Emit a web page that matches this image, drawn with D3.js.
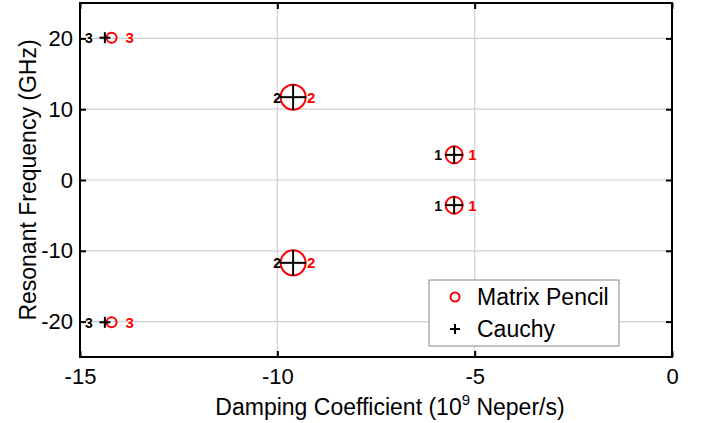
<!DOCTYPE html>
<html>
<head>
<meta charset="utf-8">
<script src="https://cdn.jsdelivr.net/npm/d3@7"></script>
<style>
  html, body { margin: 0; padding: 0; background: #fff; }
  svg { display: block; font-family: "Liberation Sans", Arial, sans-serif; }
</style>
</head>
<body>
<svg id="chart" width="710" height="423"></svg>
<script>
// ---- data ----
const poleIndex = [1, 1, 2, 2, 3, 3];
const mpDamping = [-5.52, -5.52, -9.60, -9.60, -14.20, -14.20];
const mpFreq = [3.55, -3.55, 11.7, -11.7, 20.1, -20.1];
const cauchyDamping = [-5.52, -5.52, -9.60, -9.60, -14.37, -14.37];
const cauchyFreq = [3.55, -3.55, 11.7, -11.7, 20.1, -20.1];
const residueMag = [0.68, 0.68, 1.0, 1.0, 0.4, 0.4];
const xTicks = [-15, -10, -5, 0];
const yTicks = [-20, -10, 0, 10, 20];
const seriesNames = ["Matrix Pencil", "Cauchy"];

// ---- layout ----
const svg = d3.select("#chart");
const L = 80, R = 672, T = 3, B = 357;
const x = d3.scaleLinear().domain([-15, 0]).range([L, R]);
const y = d3.scaleLinear().domain([-25, 25]).range([B, T]);
const rScale = d3.scaleLinear().domain([0, 1]).range([0, 12.5]);

// grid
svg.append("g").selectAll("line").data(xTicks.filter(d => d > -15 && d < 0)).join("line")
  .attr("x1", d => x(d)).attr("x2", d => x(d)).attr("y1", T).attr("y2", B)
  .attr("stroke", "#d0d0d0").attr("stroke-width", 1.2);
svg.append("g").selectAll("line").data(yTicks).join("line")
  .attr("y1", d => y(d)).attr("y2", d => y(d)).attr("x1", L).attr("x2", R)
  .attr("stroke", "#d0d0d0").attr("stroke-width", 1.2);

// axes with inward ticks
const tickFont = "22px";
const xAxis = svg.append("g").attr("transform", `translate(0,${B})`)
  .call(d3.axisBottom(x).tickValues(xTicks).tickSize(-6).tickPadding(11).tickFormat(d3.format("d")));
const yAxis = svg.append("g").attr("transform", `translate(${L},0)`)
  .call(d3.axisLeft(y).tickValues(yTicks).tickSize(-6).tickPadding(7).tickFormat(d3.format("d")));
const xTop = svg.append("g").attr("transform", `translate(0,${T})`)
  .call(d3.axisTop(x).tickValues(xTicks).tickSize(-6).tickFormat(""));
const yRight = svg.append("g").attr("transform", `translate(${R},0)`)
  .call(d3.axisRight(y).tickValues(yTicks).tickSize(-6).tickFormat(""));
[xAxis, yAxis, xTop, yRight].forEach(g => {
  g.select(".domain").remove();
  g.selectAll(".tick line").attr("stroke", "#000").attr("stroke-width", 2);
  g.selectAll(".tick text").attr("fill", "#000").style("font-size", tickFont)
    .style("font-family", "'Liberation Sans', Arial, sans-serif");
});
xAxis.selectAll(".tick text").text(d => d < 0 ? "-" + Math.abs(d) : d);
yAxis.selectAll(".tick text").text(d => d < 0 ? "-" + Math.abs(d) : d);

// frame
svg.append("rect").attr("x", L).attr("y", T).attr("width", R - L).attr("height", B - T)
  .attr("fill", "none").attr("stroke", "#000").attr("stroke-width", 2);

// axis labels
const xl = svg.append("text").attr("x", 390).attr("y", 415)
  .attr("text-anchor", "middle").style("font-size", "23px").attr("fill", "#000");
xl.append("tspan").text("Damping Coefficient (10");
xl.append("tspan").text("9").attr("dy", -10).style("font-size", "15px");
xl.append("tspan").text(" Neper/s)").attr("dy", 10);

svg.append("text").attr("transform", `translate(36,${(T + B) / 2}) rotate(-90)`)
  .attr("text-anchor", "middle").style("font-size", "23px").attr("fill", "#000")
  .text("Resonant Frequency (GHz)");

// Matrix Pencil circles
const mp = poleIndex.map((p, i) => ({p, x: mpDamping[i], y: mpFreq[i], m: residueMag[i]}));
const ca = poleIndex.map((p, i) => ({p, x: cauchyDamping[i], y: cauchyFreq[i], m: residueMag[i]}));

svg.append("g").selectAll("circle").data(mp).join("circle")
  .attr("cx", d => x(d.x)).attr("cy", d => y(d.y)).attr("r", d => rScale(d.m))
  .attr("fill", "none").attr("stroke", "#ff0000").attr("stroke-width", 2);

// Cauchy plus markers
const plus = svg.append("g");
ca.forEach(d => {
  const cx = x(d.x), cy = y(d.y), s = rScale(d.m) + 0.5;
  plus.append("line").attr("x1", cx - s).attr("x2", cx + s).attr("y1", cy).attr("y2", cy)
    .attr("stroke", "#000").attr("stroke-width", 2);
  plus.append("line").attr("x1", cx).attr("x2", cx).attr("y1", cy - s).attr("y2", cy + s)
    .attr("stroke", "#000").attr("stroke-width", 2);
});

// labels
svg.append("g").selectAll("text").data(mp).join("text")
  .attr("x", d => x(d.x) + 14).attr("y", d => y(d.y) + 5.5)
  .attr("fill", "#ff0000").style("font-size", "15px").style("font-weight", "bold")
  .text(d => d.p);
svg.append("g").selectAll("text").data(ca).join("text")
  .attr("x", d => x(d.x) - 12).attr("y", d => y(d.y) + 5.5).attr("text-anchor", "end")
  .attr("fill", "#000").style("font-size", "14px").style("font-weight", "bold")
  .text(d => d.p);

// legend
const lg = svg.append("g");
lg.append("rect").attr("x", 429).attr("y", 280).attr("width", 190).attr("height", 66)
  .attr("fill", "#fff").attr("stroke", "#888").attr("stroke-width", 1);
lg.append("circle").attr("cx", 455).attr("cy", 297).attr("r", 4.5)
  .attr("fill", "none").attr("stroke", "#ff0000").attr("stroke-width", 2);
lg.append("line").attr("x1", 450).attr("x2", 460).attr("y1", 329).attr("y2", 329).attr("stroke", "#000").attr("stroke-width", 2);
lg.append("line").attr("x1", 455).attr("x2", 455).attr("y1", 324).attr("y2", 334).attr("stroke", "#000").attr("stroke-width", 2);
lg.selectAll("text.lt").data(seriesNames).join("text").attr("class", "lt")
  .attr("x", 477).attr("y", (d, i) => 305 + i * 32)
  .style("font-size", "23px").attr("fill", "#000").text(d => d);
</script>
</body>
</html>
